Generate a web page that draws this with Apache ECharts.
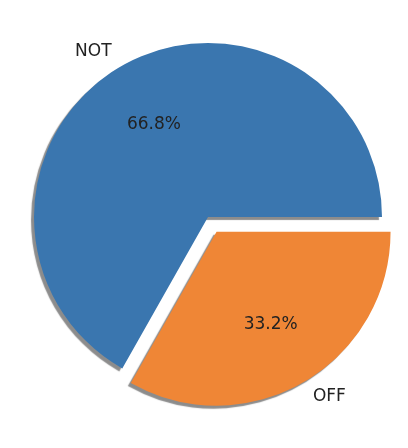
<!DOCTYPE html>
<html>
<head>
<meta charset="utf-8">
<script src="https://cdn.jsdelivr.net/npm/echarts@6/dist/echarts.min.js"></script>
<style>
  html, body { margin: 0; padding: 0; background: #fff; }
  #chart { width: 408px; height: 448px; }
</style>
</head>
<body>
<div id="chart"></div>
<script>
const names = ['NOT', 'OFF']
const values = [66.8, 33.2]
const colors = ['#3A76AF', '#EF8636']
const exploded = [false, true]

const center = [208, 217]
const R = 174
const explode = 17

const chart = echarts.init(document.getElementById('chart'))

const items = names.map((name, i) => ({
  name,
  value: values[i],
  selected: exploded[i],
  itemStyle: { color: colors[i] },
}))
const ghost = names.map((name, i) => ({
  name,
  value: values[i],
  selected: exploded[i],
}))

const common = {
  type: 'pie',
  center,
  startAngle: 0,
  clockwise: false,
  selectedMode: 'multiple',
  selectedOffset: explode,
  avoidLabelOverlap: false,
  emphasis: { disabled: true },
  animation: false,
}

chart.setOption({
  backgroundColor: '#fff',
  series: [
    {
      ...common,
      name: 'slices',
      radius: [0, R],
      data: items,
      label: { show: false },
      labelLine: { show: false },
      itemStyle: {
        shadowColor: 'rgba(0,0,0,0.45)',
        shadowBlur: 1,
        shadowOffsetX: -3,
        shadowOffsetY: 3,
      },
    },
    {
      ...common,
      name: 'pct',
      z: 3,
      silent: true,
      radius: [0, R * 1.2],
      data: ghost,
      itemStyle: { color: 'rgba(0,0,0,0)' },
      label: {
        show: true,
        position: 'inside',
        fontFamily: 'DejaVu Sans',
        fontSize: 17,
        color: '#222',
        formatter: (p) => p.percent.toFixed(1) + '%',
      },
      labelLine: { show: false },
    },
    {
      ...common,
      name: 'names',
      z: 3,
      silent: true,
      radius: [0, R * 1.1],
      data: ghost,
      itemStyle: { color: 'rgba(0,0,0,0)' },
      label: {
        show: true,
        position: 'outside',
        distanceToLabelLine: 0,
        fontFamily: 'DejaVu Sans',
        fontSize: 17,
        color: '#222',
        formatter: '{b}',
      },
      labelLine: { show: false, length: 0, length2: 0 },
    },
  ],
})
</script>
</body>
</html>
